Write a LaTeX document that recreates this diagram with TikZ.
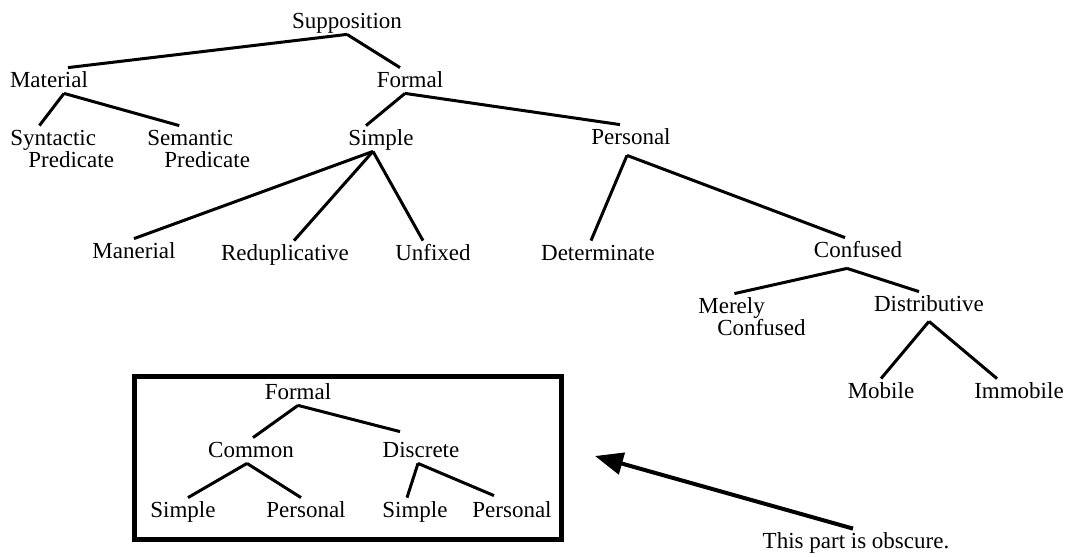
\documentclass[tikz,border=0pt]{standalone}
\usepackage{fontspec}
\setmainfont{Liberation Serif}
\usetikzlibrary{arrows.meta}

\tikzset{
  lbl/.style={anchor=base, inner sep=0pt, text height=0.95em, text depth=0.3em,
    font=\fontsize{11.5pt}{11pt}\selectfont},
  twolbl/.style={lbl, anchor=base west}
}

\begin{document}
\begin{tikzpicture}[x=0.5pt, y=-0.5pt]
        \useasboundingbox (0,0) rectangle (1072,557);

        % main tree
        \node[lbl] at (347, 28)(sup){Supposition};
        \node[lbl] at (49, 87)(mat){Material};
        \node[lbl] at (410, 87)(form){Formal};
        \node[twolbl] at (10, 145)(syn){\begin{tabular}[t]{@{}l@{}}Syntactic\\\hspace*{9pt}Predicate\end{tabular}};
        \node[twolbl] at (147, 145)(sem){\begin{tabular}[t]{@{}l@{}}Semantic\\\hspace*{8.5pt}Predicate\end{tabular}};
        \node[lbl] at (381, 145)(simp){Simple};
        \node[lbl] at (631, 144)(pers){Personal};
        \node[lbl] at (134, 258)(maner){Manerial};
        \node[lbl] at (285, 260)(redup){Reduplicative};
        \node[lbl] at (433, 260)(unfix){Unfixed};
        \node[lbl] at (598, 260)(det){Determinate};
        \node[lbl] at (858, 257)(conf){Confused};
        \node[twolbl] at (698, 313)(mer){\begin{tabular}[t]{@{}l@{}}Merely\\\hspace*{9.5pt}Confused\end{tabular}};
        \node[lbl] at (929, 311)(dist){Distributive};
        \node[lbl] at (881, 398)(mob){Mobile};
        \node[lbl] at (1019, 398)(immob){Immobile};

        \path[line width=1.5pt]
        (sup.south) edge ([xshift=9.5pt]mat.north)
        (sup.south) edge ([xshift=-5pt]form.north)
        ([xshift=7.5pt]mat.south) edge ([xshift=-11.4pt]syn.north)
        ([xshift=7.5pt]mat.south) edge ([xshift=-9.7pt]sem.north)
        ([xshift=-2.5pt]form.south) edge ([xshift=-7.5pt]simp.north)
        ([xshift=-2.5pt]form.south) edge ([xshift=-5.5pt]pers.north)
        ([xshift=-4pt]simp.south) edge (maner.north)
        ([xshift=-4pt]simp.south) edge ([xshift=4.5pt]redup.north)
        ([xshift=-4pt]simp.south) edge ([xshift=-5pt]unfix.north)
        ([xshift=-2pt,yshift=-2.5pt]pers.south) edge ([xshift=-3.5pt]det.north)
        ([xshift=-2pt,yshift=-2.5pt]pers.south) edge ([xshift=-6.5pt]conf.north)
        ([xshift=-5.5pt,yshift=-2.5pt]conf.south) edge ([xshift=-8.8pt]mer.north)
        ([xshift=-5.5pt,yshift=-2.5pt]conf.south) edge ([xshift=-5pt]dist.north)
        ([yshift=-2pt]dist.south) edge (mob.north)
        ([yshift=-2pt]dist.south) edge ([xshift=-11pt]immob.north)
        ;

        % boxed tree
        \draw[line width=2.5pt] (134.5, 376.5) rectangle (561, 539.5);
        \node[lbl] at (298, 399)(bform){Formal};
        \node[lbl] at (251, 457)(comm){Common};
        \node[lbl] at (421, 457)(disc){Discrete};
        \node[lbl] at (183, 517)(bsimp){Simple};
        \node[lbl] at (306, 517)(bpers){Personal};
        \node[lbl] at (415, 517)(dsimp){Simple};
        \node[lbl] at (512, 517)(dpers){Personal};

        \path[line width=1.5pt]
        (bform.south) edge ([xshift=1pt]comm.north)
        (bform.south) edge ([xshift=-10.5pt,yshift=3pt]disc.north)
        ([xshift=-2pt]comm.south) edge ([xshift=2.5pt]bsimp.north)
        ([xshift=-2pt]comm.south) edge ([xshift=-2.5pt]bpers.north)
        ([xshift=-1.5pt]disc.south) edge ([xshift=-4pt]dsimp.north)
        ([xshift=-1.5pt]disc.south) edge ([xshift=-9pt,yshift=1pt]dpers.north)
        ;

        % note
        \node[lbl] at (856, 548)(note){This part is obscure.};
        \coordinate (tip) at (595, 456);
        \draw[-{Triangle[length=14pt,width=11pt]}, line width=2pt] ([xshift=-1.5pt]note.north) -- (tip);
    \end{tikzpicture}
\end{document}
